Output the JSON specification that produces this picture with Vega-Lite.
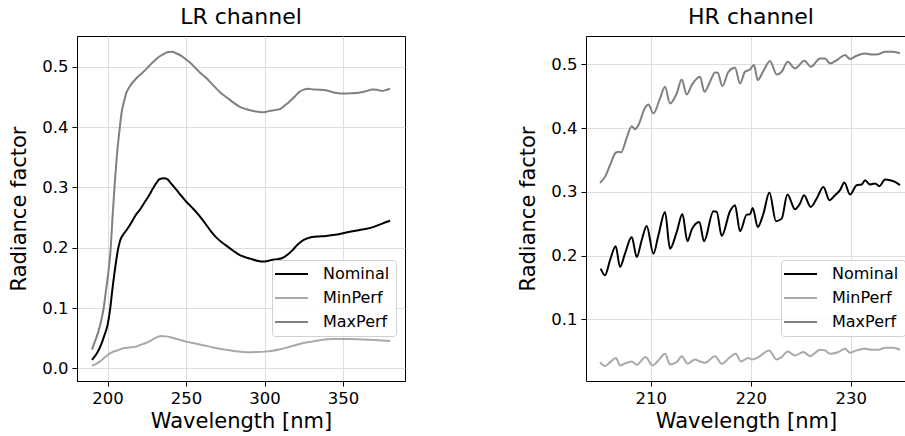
{
  "$schema": "https://vega.github.io/schema/vega-lite/v6.json",
  "background": "white",
  "padding": {"left": 7, "right": 0, "top": 5, "bottom": 0},
  "spacing": 111,
  "config": {
    "font": "DejaVu Sans",
    "view": {"stroke": "black", "strokeWidth": 1},
    "title": {"font": "DejaVu Sans", "fontSize": 22, "fontWeight": "normal", "color": "black", "offset": 7, "anchor": "middle"},
    "axis": {
      "labelFont": "DejaVu Sans", "labelFontSize": 16.5, "labelColor": "black",
      "titleFont": "DejaVu Sans", "titleFontSize": 21, "titleFontWeight": "normal", "titleColor": "black",
      "tickColor": "black", "tickSize": 5, "labelPadding": 4,
      "domain": true, "domainColor": "black", "domainWidth": 1,
      "grid": true, "gridColor": "#dedede", "gridWidth": 1
    },
    "axisY": {"minExtent": 36, "maxExtent": 36, "titlePadding": 12},
    "axisX": {"titlePadding": 4},
    "legend": {
      "labelFont": "DejaVu Sans", "labelFontSize": 16, "labelColor": "black",
      "symbolType": "M-2.2,0H4.4", "symbolSize": 100, "symbolStrokeWidth": 2,
      "labelOffset": 29, "padding": 6, "rowPadding": 8,
      "strokeColor": "#d0d0d0", "fillColor": "rgba(255,255,255,0.85)", "cornerRadius": 3
    }
  },
  "datasets": {
    "lr": [
      {"wl": 190, "v": 0.014, "s": "Nominal"}, {"wl": 193, "v": 0.024, "s": "Nominal"}, {"wl": 196, "v": 0.04, "s": "Nominal"}, {"wl": 198, "v": 0.055, "s": "Nominal"}, {"wl": 200, "v": 0.072, "s": "Nominal"}, {"wl": 201.7, "v": 0.1, "s": "Nominal"}, {"wl": 203, "v": 0.13, "s": "Nominal"}, {"wl": 205, "v": 0.17, "s": "Nominal"}, {"wl": 206.7, "v": 0.198, "s": "Nominal"}, {"wl": 208, "v": 0.212, "s": "Nominal"}, {"wl": 210, "v": 0.222, "s": "Nominal"}, {"wl": 212, "v": 0.229, "s": "Nominal"}, {"wl": 215, "v": 0.241, "s": "Nominal"}, {"wl": 218, "v": 0.2545, "s": "Nominal"}, {"wl": 220, "v": 0.261, "s": "Nominal"}, {"wl": 223, "v": 0.273, "s": "Nominal"}, {"wl": 226, "v": 0.285, "s": "Nominal"}, {"wl": 229, "v": 0.2986, "s": "Nominal"}, {"wl": 231, "v": 0.307, "s": "Nominal"}, {"wl": 233, "v": 0.3136, "s": "Nominal"}, {"wl": 236, "v": 0.315, "s": "Nominal"}, {"wl": 238, "v": 0.3136, "s": "Nominal"}, {"wl": 240, "v": 0.308, "s": "Nominal"}, {"wl": 243, "v": 0.2986, "s": "Nominal"}, {"wl": 246, "v": 0.289, "s": "Nominal"}, {"wl": 250, "v": 0.2766, "s": "Nominal"}, {"wl": 254, "v": 0.266, "s": "Nominal"}, {"wl": 258, "v": 0.2545, "s": "Nominal"}, {"wl": 262, "v": 0.241, "s": "Nominal"}, {"wl": 266, "v": 0.2268, "s": "Nominal"}, {"wl": 270, "v": 0.215, "s": "Nominal"}, {"wl": 275, "v": 0.2047, "s": "Nominal"}, {"wl": 280, "v": 0.195, "s": "Nominal"}, {"wl": 284, "v": 0.1881, "s": "Nominal"}, {"wl": 288, "v": 0.184, "s": "Nominal"}, {"wl": 292, "v": 0.1809, "s": "Nominal"}, {"wl": 296, "v": 0.178, "s": "Nominal"}, {"wl": 299, "v": 0.177, "s": "Nominal"}, {"wl": 302, "v": 0.178, "s": "Nominal"}, {"wl": 305, "v": 0.18, "s": "Nominal"}, {"wl": 308, "v": 0.181, "s": "Nominal"}, {"wl": 311, "v": 0.1825, "s": "Nominal"}, {"wl": 315, "v": 0.189, "s": "Nominal"}, {"wl": 318, "v": 0.1964, "s": "Nominal"}, {"wl": 321, "v": 0.205, "s": "Nominal"}, {"wl": 325, "v": 0.213, "s": "Nominal"}, {"wl": 329, "v": 0.217, "s": "Nominal"}, {"wl": 333, "v": 0.2185, "s": "Nominal"}, {"wl": 339, "v": 0.2195, "s": "Nominal"}, {"wl": 345, "v": 0.2213, "s": "Nominal"}, {"wl": 350, "v": 0.224, "s": "Nominal"}, {"wl": 355, "v": 0.2268, "s": "Nominal"}, {"wl": 360, "v": 0.229, "s": "Nominal"}, {"wl": 365, "v": 0.2314, "s": "Nominal"}, {"wl": 370, "v": 0.235, "s": "Nominal"}, {"wl": 375, "v": 0.24, "s": "Nominal"}, {"wl": 380, "v": 0.2446, "s": "Nominal"},
      {"wl": 190, "v": 0.0045, "s": "MinPerf"}, {"wl": 193, "v": 0.008, "s": "MinPerf"}, {"wl": 195, "v": 0.0111, "s": "MinPerf"}, {"wl": 198, "v": 0.018, "s": "MinPerf"}, {"wl": 200, "v": 0.0222, "s": "MinPerf"}, {"wl": 203, "v": 0.027, "s": "MinPerf"}, {"wl": 206, "v": 0.0295, "s": "MinPerf"}, {"wl": 210, "v": 0.0332, "s": "MinPerf"}, {"wl": 214, "v": 0.0345, "s": "MinPerf"}, {"wl": 218, "v": 0.036, "s": "MinPerf"}, {"wl": 221, "v": 0.039, "s": "MinPerf"}, {"wl": 224, "v": 0.0415, "s": "MinPerf"}, {"wl": 227, "v": 0.045, "s": "MinPerf"}, {"wl": 230, "v": 0.0498, "s": "MinPerf"}, {"wl": 234, "v": 0.0537, "s": "MinPerf"}, {"wl": 237, "v": 0.053, "s": "MinPerf"}, {"wl": 240, "v": 0.0516, "s": "MinPerf"}, {"wl": 245, "v": 0.048, "s": "MinPerf"}, {"wl": 250, "v": 0.0443, "s": "MinPerf"}, {"wl": 255, "v": 0.0415, "s": "MinPerf"}, {"wl": 260, "v": 0.0388, "s": "MinPerf"}, {"wl": 265, "v": 0.036, "s": "MinPerf"}, {"wl": 270, "v": 0.0332, "s": "MinPerf"}, {"wl": 275, "v": 0.031, "s": "MinPerf"}, {"wl": 280, "v": 0.0288, "s": "MinPerf"}, {"wl": 285, "v": 0.0275, "s": "MinPerf"}, {"wl": 290, "v": 0.0266, "s": "MinPerf"}, {"wl": 295, "v": 0.027, "s": "MinPerf"}, {"wl": 300, "v": 0.0277, "s": "MinPerf"}, {"wl": 305, "v": 0.029, "s": "MinPerf"}, {"wl": 310, "v": 0.0315, "s": "MinPerf"}, {"wl": 315, "v": 0.035, "s": "MinPerf"}, {"wl": 320, "v": 0.0388, "s": "MinPerf"}, {"wl": 325, "v": 0.042, "s": "MinPerf"}, {"wl": 330, "v": 0.0443, "s": "MinPerf"}, {"wl": 335, "v": 0.0465, "s": "MinPerf"}, {"wl": 340, "v": 0.0481, "s": "MinPerf"}, {"wl": 345, "v": 0.0485, "s": "MinPerf"}, {"wl": 350, "v": 0.0487, "s": "MinPerf"}, {"wl": 355, "v": 0.0485, "s": "MinPerf"}, {"wl": 360, "v": 0.0481, "s": "MinPerf"}, {"wl": 365, "v": 0.0475, "s": "MinPerf"}, {"wl": 370, "v": 0.047, "s": "MinPerf"}, {"wl": 375, "v": 0.046, "s": "MinPerf"}, {"wl": 380, "v": 0.0454, "s": "MinPerf"},
      {"wl": 190, "v": 0.031, "s": "MaxPerf"}, {"wl": 192, "v": 0.045, "s": "MaxPerf"}, {"wl": 194, "v": 0.06, "s": "MaxPerf"}, {"wl": 196, "v": 0.08, "s": "MaxPerf"}, {"wl": 197.5, "v": 0.1, "s": "MaxPerf"}, {"wl": 199, "v": 0.13, "s": "MaxPerf"}, {"wl": 200.5, "v": 0.16, "s": "MaxPerf"}, {"wl": 202, "v": 0.2, "s": "MaxPerf"}, {"wl": 203, "v": 0.245, "s": "MaxPerf"}, {"wl": 204.4, "v": 0.3, "s": "MaxPerf"}, {"wl": 206, "v": 0.355, "s": "MaxPerf"}, {"wl": 207.8, "v": 0.4, "s": "MaxPerf"}, {"wl": 209, "v": 0.425, "s": "MaxPerf"}, {"wl": 210.5, "v": 0.443, "s": "MaxPerf"}, {"wl": 212, "v": 0.457, "s": "MaxPerf"}, {"wl": 214, "v": 0.467, "s": "MaxPerf"}, {"wl": 217, "v": 0.477, "s": "MaxPerf"}, {"wl": 220, "v": 0.485, "s": "MaxPerf"}, {"wl": 223, "v": 0.492, "s": "MaxPerf"}, {"wl": 226, "v": 0.5, "s": "MaxPerf"}, {"wl": 229, "v": 0.508, "s": "MaxPerf"}, {"wl": 232, "v": 0.515, "s": "MaxPerf"}, {"wl": 235, "v": 0.52, "s": "MaxPerf"}, {"wl": 238, "v": 0.524, "s": "MaxPerf"}, {"wl": 241, "v": 0.525, "s": "MaxPerf"}, {"wl": 244, "v": 0.522, "s": "MaxPerf"}, {"wl": 247, "v": 0.518, "s": "MaxPerf"}, {"wl": 250, "v": 0.512, "s": "MaxPerf"}, {"wl": 253, "v": 0.506, "s": "MaxPerf"}, {"wl": 256, "v": 0.498, "s": "MaxPerf"}, {"wl": 259, "v": 0.49, "s": "MaxPerf"}, {"wl": 263, "v": 0.481, "s": "MaxPerf"}, {"wl": 267, "v": 0.47, "s": "MaxPerf"}, {"wl": 272, "v": 0.457, "s": "MaxPerf"}, {"wl": 276, "v": 0.449, "s": "MaxPerf"}, {"wl": 280, "v": 0.441, "s": "MaxPerf"}, {"wl": 284, "v": 0.434, "s": "MaxPerf"}, {"wl": 288, "v": 0.43, "s": "MaxPerf"}, {"wl": 292, "v": 0.427, "s": "MaxPerf"}, {"wl": 296, "v": 0.4255, "s": "MaxPerf"}, {"wl": 299, "v": 0.4245, "s": "MaxPerf"}, {"wl": 302, "v": 0.426, "s": "MaxPerf"}, {"wl": 306, "v": 0.428, "s": "MaxPerf"}, {"wl": 310, "v": 0.43, "s": "MaxPerf"}, {"wl": 313, "v": 0.436, "s": "MaxPerf"}, {"wl": 316, "v": 0.4425, "s": "MaxPerf"}, {"wl": 319, "v": 0.45, "s": "MaxPerf"}, {"wl": 322, "v": 0.458, "s": "MaxPerf"}, {"wl": 325, "v": 0.462, "s": "MaxPerf"}, {"wl": 328, "v": 0.4635, "s": "MaxPerf"}, {"wl": 331, "v": 0.4624, "s": "MaxPerf"}, {"wl": 335, "v": 0.462, "s": "MaxPerf"}, {"wl": 339, "v": 0.461, "s": "MaxPerf"}, {"wl": 342, "v": 0.459, "s": "MaxPerf"}, {"wl": 346, "v": 0.4565, "s": "MaxPerf"}, {"wl": 350, "v": 0.4555, "s": "MaxPerf"}, {"wl": 355, "v": 0.456, "s": "MaxPerf"}, {"wl": 360, "v": 0.457, "s": "MaxPerf"}, {"wl": 364, "v": 0.459, "s": "MaxPerf"}, {"wl": 369, "v": 0.4624, "s": "MaxPerf"}, {"wl": 372, "v": 0.4615, "s": "MaxPerf"}, {"wl": 375, "v": 0.46, "s": "MaxPerf"}, {"wl": 378, "v": 0.462, "s": "MaxPerf"}, {"wl": 380, "v": 0.4636, "s": "MaxPerf"}
    ],
    "hr": [
      {"wl": 205.0, "v": 0.1796, "s": "Nominal"}, {"wl": 205.43, "v": 0.1692, "s": "Nominal"}, {"wl": 205.93, "v": 0.1928, "s": "Nominal"}, {"wl": 206.5, "v": 0.2147, "s": "Nominal"}, {"wl": 206.93, "v": 0.1823, "s": "Nominal"}, {"wl": 207.43, "v": 0.2032, "s": "Nominal"}, {"wl": 208.1, "v": 0.2294, "s": "Nominal"}, {"wl": 208.6, "v": 0.198, "s": "Nominal"}, {"wl": 209.1, "v": 0.2242, "s": "Nominal"}, {"wl": 209.6, "v": 0.2467, "s": "Nominal"}, {"wl": 210.27, "v": 0.2032, "s": "Nominal"}, {"wl": 210.77, "v": 0.232, "s": "Nominal"}, {"wl": 211.43, "v": 0.2686, "s": "Nominal"}, {"wl": 211.93, "v": 0.211, "s": "Nominal"}, {"wl": 212.6, "v": 0.2372, "s": "Nominal"}, {"wl": 213.17, "v": 0.2655, "s": "Nominal"}, {"wl": 213.67, "v": 0.2226, "s": "Nominal"}, {"wl": 214.1, "v": 0.2409, "s": "Nominal"}, {"wl": 214.87, "v": 0.2529, "s": "Nominal"}, {"wl": 215.33, "v": 0.2226, "s": "Nominal"}, {"wl": 216.27, "v": 0.2697, "s": "Nominal"}, {"wl": 216.6, "v": 0.269, "s": "Nominal"}, {"wl": 217.1, "v": 0.231, "s": "Nominal"}, {"wl": 217.93, "v": 0.2697, "s": "Nominal"}, {"wl": 218.43, "v": 0.2792, "s": "Nominal"}, {"wl": 218.93, "v": 0.2383, "s": "Nominal"}, {"wl": 219.6, "v": 0.2644, "s": "Nominal"}, {"wl": 219.93, "v": 0.2649, "s": "Nominal"}, {"wl": 220.2, "v": 0.2749, "s": "Nominal"}, {"wl": 220.7, "v": 0.2451, "s": "Nominal"}, {"wl": 221.27, "v": 0.266, "s": "Nominal"}, {"wl": 221.87, "v": 0.299, "s": "Nominal"}, {"wl": 222.53, "v": 0.254, "s": "Nominal"}, {"wl": 223.1, "v": 0.2581, "s": "Nominal"}, {"wl": 223.67, "v": 0.2958, "s": "Nominal"}, {"wl": 224.43, "v": 0.2729, "s": "Nominal"}, {"wl": 224.93, "v": 0.2818, "s": "Nominal"}, {"wl": 225.33, "v": 0.2948, "s": "Nominal"}, {"wl": 226.0, "v": 0.2765, "s": "Nominal"}, {"wl": 226.6, "v": 0.2896, "s": "Nominal"}, {"wl": 227.27, "v": 0.3079, "s": "Nominal"}, {"wl": 227.87, "v": 0.287, "s": "Nominal"}, {"wl": 228.43, "v": 0.2948, "s": "Nominal"}, {"wl": 228.93, "v": 0.3027, "s": "Nominal"}, {"wl": 229.37, "v": 0.3147, "s": "Nominal"}, {"wl": 229.93, "v": 0.2958, "s": "Nominal"}, {"wl": 230.6, "v": 0.3106, "s": "Nominal"}, {"wl": 231.1, "v": 0.3116, "s": "Nominal"}, {"wl": 231.43, "v": 0.3184, "s": "Nominal"}, {"wl": 231.93, "v": 0.3116, "s": "Nominal"}, {"wl": 232.43, "v": 0.3132, "s": "Nominal"}, {"wl": 232.87, "v": 0.309, "s": "Nominal"}, {"wl": 233.43, "v": 0.3194, "s": "Nominal"}, {"wl": 233.93, "v": 0.3184, "s": "Nominal"}, {"wl": 234.43, "v": 0.3158, "s": "Nominal"}, {"wl": 234.93, "v": 0.3106, "s": "Nominal"},
      {"wl": 204.93, "v": 0.033, "s": "MinPerf"}, {"wl": 205.43, "v": 0.0268, "s": "MinPerf"}, {"wl": 205.93, "v": 0.033, "s": "MinPerf"}, {"wl": 206.53, "v": 0.0393, "s": "MinPerf"}, {"wl": 206.93, "v": 0.0278, "s": "MinPerf"}, {"wl": 207.6, "v": 0.032, "s": "MinPerf"}, {"wl": 208.1, "v": 0.0341, "s": "MinPerf"}, {"wl": 208.6, "v": 0.0288, "s": "MinPerf"}, {"wl": 209.5, "v": 0.0409, "s": "MinPerf"}, {"wl": 210.17, "v": 0.0278, "s": "MinPerf"}, {"wl": 210.77, "v": 0.0357, "s": "MinPerf"}, {"wl": 211.43, "v": 0.046, "s": "MinPerf"}, {"wl": 211.93, "v": 0.0294, "s": "MinPerf"}, {"wl": 212.6, "v": 0.033, "s": "MinPerf"}, {"wl": 213.1, "v": 0.0424, "s": "MinPerf"}, {"wl": 213.7, "v": 0.0304, "s": "MinPerf"}, {"wl": 214.43, "v": 0.0373, "s": "MinPerf"}, {"wl": 214.93, "v": 0.0341, "s": "MinPerf"}, {"wl": 215.43, "v": 0.032, "s": "MinPerf"}, {"wl": 216.43, "v": 0.0424, "s": "MinPerf"}, {"wl": 217.1, "v": 0.0304, "s": "MinPerf"}, {"wl": 217.93, "v": 0.0409, "s": "MinPerf"}, {"wl": 218.5, "v": 0.046, "s": "MinPerf"}, {"wl": 219.03, "v": 0.0341, "s": "MinPerf"}, {"wl": 219.77, "v": 0.0393, "s": "MinPerf"}, {"wl": 220.1, "v": 0.0373, "s": "MinPerf"}, {"wl": 220.6, "v": 0.0393, "s": "MinPerf"}, {"wl": 221.1, "v": 0.0445, "s": "MinPerf"}, {"wl": 221.83, "v": 0.0514, "s": "MinPerf"}, {"wl": 222.6, "v": 0.0373, "s": "MinPerf"}, {"wl": 223.1, "v": 0.0409, "s": "MinPerf"}, {"wl": 223.7, "v": 0.0498, "s": "MinPerf"}, {"wl": 224.43, "v": 0.0435, "s": "MinPerf"}, {"wl": 225.27, "v": 0.0488, "s": "MinPerf"}, {"wl": 225.93, "v": 0.0424, "s": "MinPerf"}, {"wl": 226.93, "v": 0.0524, "s": "MinPerf"}, {"wl": 227.43, "v": 0.0514, "s": "MinPerf"}, {"wl": 227.93, "v": 0.046, "s": "MinPerf"}, {"wl": 228.77, "v": 0.0488, "s": "MinPerf"}, {"wl": 229.43, "v": 0.054, "s": "MinPerf"}, {"wl": 229.93, "v": 0.0477, "s": "MinPerf"}, {"wl": 230.6, "v": 0.0514, "s": "MinPerf"}, {"wl": 231.43, "v": 0.054, "s": "MinPerf"}, {"wl": 232.1, "v": 0.0524, "s": "MinPerf"}, {"wl": 232.77, "v": 0.0524, "s": "MinPerf"}, {"wl": 233.43, "v": 0.0555, "s": "MinPerf"}, {"wl": 234.27, "v": 0.0555, "s": "MinPerf"}, {"wl": 234.93, "v": 0.0524, "s": "MinPerf"},
      {"wl": 204.93, "v": 0.3142, "s": "MaxPerf"}, {"wl": 205.43, "v": 0.3236, "s": "MaxPerf"}, {"wl": 205.93, "v": 0.342, "s": "MaxPerf"}, {"wl": 206.53, "v": 0.3618, "s": "MaxPerf"}, {"wl": 206.83, "v": 0.3629, "s": "MaxPerf"}, {"wl": 207.03, "v": 0.3618, "s": "MaxPerf"}, {"wl": 207.6, "v": 0.3849, "s": "MaxPerf"}, {"wl": 208.1, "v": 0.4032, "s": "MaxPerf"}, {"wl": 208.43, "v": 0.3985, "s": "MaxPerf"}, {"wl": 208.77, "v": 0.4048, "s": "MaxPerf"}, {"wl": 209.43, "v": 0.432, "s": "MaxPerf"}, {"wl": 209.77, "v": 0.4372, "s": "MaxPerf"}, {"wl": 210.27, "v": 0.423, "s": "MaxPerf"}, {"wl": 210.93, "v": 0.4466, "s": "MaxPerf"}, {"wl": 211.43, "v": 0.465, "s": "MaxPerf"}, {"wl": 211.93, "v": 0.4388, "s": "MaxPerf"}, {"wl": 212.6, "v": 0.4545, "s": "MaxPerf"}, {"wl": 213.1, "v": 0.4764, "s": "MaxPerf"}, {"wl": 213.6, "v": 0.4529, "s": "MaxPerf"}, {"wl": 214.1, "v": 0.4676, "s": "MaxPerf"}, {"wl": 214.93, "v": 0.4807, "s": "MaxPerf"}, {"wl": 215.37, "v": 0.4571, "s": "MaxPerf"}, {"wl": 215.93, "v": 0.4728, "s": "MaxPerf"}, {"wl": 216.43, "v": 0.4874, "s": "MaxPerf"}, {"wl": 216.7, "v": 0.4869, "s": "MaxPerf"}, {"wl": 217.17, "v": 0.466, "s": "MaxPerf"}, {"wl": 217.77, "v": 0.4885, "s": "MaxPerf"}, {"wl": 218.43, "v": 0.4948, "s": "MaxPerf"}, {"wl": 218.93, "v": 0.4702, "s": "MaxPerf"}, {"wl": 219.43, "v": 0.4885, "s": "MaxPerf"}, {"wl": 219.93, "v": 0.4922, "s": "MaxPerf"}, {"wl": 220.33, "v": 0.499, "s": "MaxPerf"}, {"wl": 220.7, "v": 0.4755, "s": "MaxPerf"}, {"wl": 221.27, "v": 0.4896, "s": "MaxPerf"}, {"wl": 221.93, "v": 0.5053, "s": "MaxPerf"}, {"wl": 222.6, "v": 0.4843, "s": "MaxPerf"}, {"wl": 223.1, "v": 0.4885, "s": "MaxPerf"}, {"wl": 223.7, "v": 0.5042, "s": "MaxPerf"}, {"wl": 224.43, "v": 0.4937, "s": "MaxPerf"}, {"wl": 225.37, "v": 0.5058, "s": "MaxPerf"}, {"wl": 226.03, "v": 0.4964, "s": "MaxPerf"}, {"wl": 226.93, "v": 0.5094, "s": "MaxPerf"}, {"wl": 227.43, "v": 0.5094, "s": "MaxPerf"}, {"wl": 227.93, "v": 0.5016, "s": "MaxPerf"}, {"wl": 228.77, "v": 0.5085, "s": "MaxPerf"}, {"wl": 229.43, "v": 0.5148, "s": "MaxPerf"}, {"wl": 229.93, "v": 0.5085, "s": "MaxPerf"}, {"wl": 230.6, "v": 0.5137, "s": "MaxPerf"}, {"wl": 231.43, "v": 0.5173, "s": "MaxPerf"}, {"wl": 232.1, "v": 0.5157, "s": "MaxPerf"}, {"wl": 232.77, "v": 0.516, "s": "MaxPerf"}, {"wl": 233.43, "v": 0.52, "s": "MaxPerf"}, {"wl": 234.27, "v": 0.52, "s": "MaxPerf"}, {"wl": 234.93, "v": 0.5173, "s": "MaxPerf"}
    ]
  },
  "hconcat": [
    {
      "title": {"text": "LR channel"},
      "width": 328,
      "height": 345,
      "data": {"name": "lr"},
      "mark": {"type": "line", "strokeWidth": 2, "clip": true, "interpolate": "monotone"},
      "encoding": {
        "x": {"field": "wl", "type": "quantitative", "scale": {"domain": [180.5, 389.5], "nice": false, "zero": false},
              "axis": {"title": "Wavelength [nm]", "values": [200, 250, 300, 350], "format": "d"}},
        "y": {"field": "v", "type": "quantitative", "scale": {"domain": [-0.021, 0.551], "nice": false, "zero": false},
              "axis": {"title": "Radiance factor", "values": [0, 0.1, 0.2, 0.3, 0.4, 0.5], "format": ".1f"}},
        "color": {"field": "s", "type": "nominal",
                  "scale": {"domain": ["Nominal", "MinPerf", "MaxPerf"], "range": ["#000000", "#a9a9a9", "#808080"]},
                  "legend": {"title": null, "orient": "none", "legendX": 195, "legendY": 224}}
      }
    },
    {
      "title": {"text": "HR channel", "dx": 5},
      "width": 320,
      "height": 345,
      "view": {"stroke": null},
      "data": {"name": "hr"},
      "resolve": {"axis": {"x": "independent"}},
      "layer": [
        {
          "mark": {"type": "line", "strokeWidth": 2, "clip": true, "interpolate": "monotone"},
          "encoding": {
            "x": {"field": "wl", "type": "quantitative", "scale": {"domain": [203.53, 235.53], "nice": false, "zero": false},
                  "axis": {"title": "Wavelength [nm]", "values": [210, 220, 230], "format": "d", "orient": "bottom", "domain": true, "domainColor": "black"}},
            "y": {"field": "v", "type": "quantitative", "scale": {"domain": [0.0034, 0.5446], "nice": false, "zero": false},
                  "axis": {"title": "Radiance factor", "values": [0.1, 0.2, 0.3, 0.4, 0.5], "format": ".1f", "domain": true, "domainColor": "black"}},
            "color": {"field": "s", "type": "nominal",
                      "scale": {"domain": ["Nominal", "MinPerf", "MaxPerf"], "range": ["#000000", "#a9a9a9", "#808080"]},
                      "legend": {"title": null, "orient": "none", "legendX": 195, "legendY": 224}}
          }
        },
        {
          "mark": {"type": "line", "opacity": 0, "clip": true},
          "encoding": {
            "x": {"field": "wl", "type": "quantitative", "scale": {"domain": [203.53, 235.53], "nice": false, "zero": false},
                  "axis": {"orient": "top", "title": null, "labels": false, "ticks": false, "grid": false, "domain": true, "domainColor": "black"}},
            "y": {"field": "v", "type": "quantitative", "scale": {"domain": [0.0034, 0.5446], "nice": false, "zero": false},
                  "axis": {"title": "Radiance factor", "values": [0.1, 0.2, 0.3, 0.4, 0.5], "format": ".1f", "domain": true, "domainColor": "black"}},
            "detail": {"field": "s"}
          }
        }
      ]
    }
  ],
  "resolve": {"scale": {"x": "independent", "y": "independent", "color": "independent"}, "legend": {"color": "independent"}}
}
